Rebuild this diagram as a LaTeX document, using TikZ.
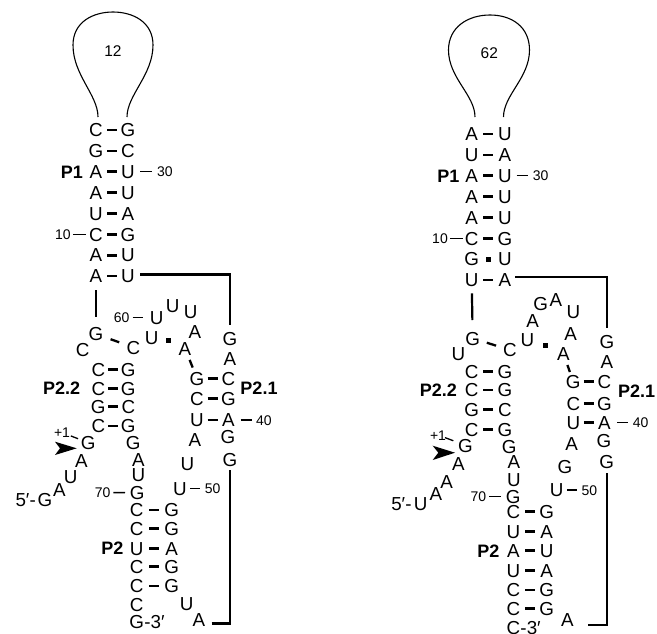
\documentclass[tikz,border=0pt]{standalone}
\usepackage{fontspec}
\setmainfont{Liberation Sans}
\usetikzlibrary{calc}
\begin{document}
\begin{tikzpicture}[x=1pt,y=-1pt,
 nt/.style={inner sep=0pt, font=\fontsize{18.8}{18.8}\selectfont, text height=13.4pt, text depth=0pt},
 num/.style={inner sep=0pt, font=\fontsize{14}{14}\selectfont, text height=10pt, text depth=0pt},
 lnum/.style={inner sep=0pt, font=\fontsize{15.5}{15.5}\selectfont, text height=11pt, text depth=0pt},
 lbl/.style={inner sep=0pt, font=\bfseries\fontsize{18}{18}\selectfont, text height=12.9pt, text depth=0pt},
 bpx/.style 2 args={line width=2.6pt, shorten <=#1, shorten >=#2},
 bp/.style={bpx={#1}{#1}},
 tk/.style 2 args={line width=1.5pt, shorten <=#1, shorten >=#2},
 bb/.style={line width=2.2pt},
 sq/.style={fill=black, inner sep=0pt, minimum size=5pt},
 lp/.style={line width=1.1pt}]
\useasboundingbox (0,0) rectangle (657,633);

%%%%%%%%%%%%%%%%%%%% LEFT PANEL %%%%%%%%%%%%%%%%%%%%
\draw[lp] (98,117) .. controls (98,95) and (73,75) .. (73,45)
  .. controls (73,22) and (93,12) .. (113,12)
  .. controls (133,12) and (153,22) .. (153,45)
  .. controls (153,75) and (127,95) .. (127,117);
\node[lnum] (a12) at (113,51) {12};

\foreach \n/\x/\y/\t in {
 aL1/96/130/C, aR1/128/130/G,
 aL2/96/150.9/G, aR2/128/150.9/C,
 aL3/96/171.7/A, aR3/128/171.7/U,
 aL4/96/192.6/A, aR4/128/192.6/U,
 aL5/96/213.4/U, aR5/128/213.4/A,
 aL6/96/234.3/C, aR6/128/234.3/G,
 aL7/96/255.2/A, aR7/128/255.2/U,
 aL8/96/276/A, aR8/128/276/U,
 aGb/96/334/G, aCc/82.7/349.3/C, aCd/133.3/347.3/C, aUe/151.7/337.3/U,
 aAf/185/348.3/A, aAg/195/331.7/A, aUh/190.7/311.7/U, aUi/172.7/306/U, aUj/156.7/317.3/U,
 aGa/230/338.3/G, aAa/230/358.3/A,
 aT1l/197/378.3/G, aT1r/228.5/378.3/C,
 aT2l/197/398.3/C, aT2r/228.5/398.3/G,
 aT3l/197/420/U, aT3r/228.5/420/A,
 aAx/195/440/A, aGx/228/436.7/G, aGy/230/459.3/G,
 aUx/187.3/463.3/U, aUy/180/488.3/U,
 aQ1l/98.3/369.5/C, aQ1r/128.3/369.5/G,
 aQ2l/98.3/388.3/C, aQ2r/128.3/388.3/G,
 aQ3l/98.3/406.7/G, aQ3r/128.3/406.7/C,
 aQ4l/98.3/426/C, aQ4r/128.3/426/G,
 aG1/88.3/442.7/G, aA2/81.5/461/A, aU3/70.7/476.7/U, aA4/59.3/490/A, aG5/45/500/G,
 aGs/133.3/442.7/G, aAs/138.3/460/A, aUs/138.3/475/U, aGt/137.3/492.7/G,
 aS1l/136.7/510/C, aS1r/171.7/510/G,
 aS2l/136.7/528.3/C, aS2r/171.7/528.3/G,
 aS3l/136.7/548.3/U, aS3r/171.7/548.3/A,
 aS4l/136.7/566.7/C, aS4r/171.7/566.7/G,
 aS5l/136.7/586/C, aS5r/171.7/586/G,
 aCe/136.7/605/C, aGe/136.7/621.7/G,
 aUf/186.7/603.3/U, aAe/199/620/A}
 \node[nt] (\n) at (\x,\y) {\t};

\node[nt, anchor=east] (a5p) at ([xshift=-1.5pt]aG5.west) {5′-};
\node[nt, anchor=west] (a3p) at (aGe.east) {-3′};

\node[lbl] (aP1) at (72,171.7) {P1};
\node[lbl] (aP22) at (61.7,388.3) {P2.2};
\node[lbl] (aP21) at (259,388.3) {P2.1};
\node[lbl] (aP2) at (112.5,548.3) {P2};

\node[num] (an30) at (165,171.7) {30};
\node[num] (an10) at (63,234.3) {10};
\node[num] (an60) at (121.7,317.3) {60};
\node[num] (an40) at (264,420) {40};
\node[num] (an50) at (212.7,488.3) {50};
\node[num] (an70) at (102.7,492.5) {70};
\node[num] (ap1) at (62,432.5) {+1};

\foreach \i in {1,...,8} \draw[bp=11pt] (aL\i.center) -- (aR\i.center);
\foreach \i in {1,...,4} \draw[bp=10pt] (aQ\i l.center) -- (aQ\i r.center);
\foreach \i in {1,...,3} \draw[bp=10.5pt] (aT\i l.center) -- (aT\i r.center);
\foreach \i in {1,...,5} \draw[bp=12.5pt] (aS\i l.center) -- (aS\i r.center);

\draw[bpx={15.5pt}{15pt}, line width=2.3pt] (aGb.center) -- (aCd.center);
\draw[bpx={12.5pt}{11.6pt}, line width=2.3pt] (aAf.center) -- (aT1l.center);
\node[sq] (asq) at (168.3,340.7) {};

\draw[tk={12pt}{13pt}] (aR3.center) -- (an30.center);
\draw[tk={10pt}{10pt}] (an10.center) -- (aL6.center);
\draw[tk={11pt}{13.4pt}] (an60.center) -- (aUj.center);
\draw[tk={12.2pt}{11.7pt}] (aT3r.center) -- (an40.center);
\draw[tk={10pt}{12.7pt}] (aUy.center) -- (an50.center);
\draw[tk={10.6pt}{12.3pt}] (an70.center) -- (aGt.center);
\draw[tk={9.5pt}{11pt}, line width=1.3pt] (ap1.center) -- (aG1.center);

\draw[bb, shorten <=14pt, shorten >=17.3pt] (aL8.center) -- (aGb.center);
\draw[bb, shorten <=12pt, shorten >=13pt] ([yshift=1.5pt]aR8.center) -| (aGa.center);
\draw[bb, shorten <=12.7pt, shorten >=10.7pt] ([yshift=-3.5pt]aAe.center) -| (aGy.center);

\fill (76.7,448.3) -- (55,441.7) -- (60,448.3) -- (55,455) -- cycle;

%%%%%%%%%%%%%%%%%%%% RIGHT PANEL %%%%%%%%%%%%%%%%%%%%
\draw[lp] (475,117) .. controls (475,95) and (448.5,78) .. (448.5,50)
  .. controls (448.5,27) and (468,15) .. (490,15)
  .. controls (512,15) and (529.5,27) .. (529.5,50)
  .. controls (529.5,78) and (503.5,95) .. (503.5,117);
\node[lnum] (b62) at (489.3,53.3) {62};

\foreach \n/\x/\y/\t in {
 bL1/471.7/134/A, bR1/505/134/U,
 bL2/471.7/154.9/U, bR2/505/154.9/A,
 bL3/471.7/175.7/A, bR3/505/175.7/U,
 bL4/471.7/196.6/A, bR4/505/196.6/U,
 bL5/471.7/217.4/A, bR5/505/217.4/U,
 bL6/471.7/238.3/C, bR6/505/238.3/G,
 bL7/471.7/259.2/G, bR7/505/259.2/U,
 bL8/471.7/280/U, bR8/505/280/A,
 bGb/472.7/338.3/G, bUc/458.3/353.3/U, bCd/510/350/C, bUe/527.3/340/U,
 bAf/563.3/353.3/A, bAg/570.7/334/A, bUh/573.3/311.7/U, bAi/556/300/A,
 bGj/540.7/303.3/G, bAk/532.7/320.7/A,
 bGa/607/341.7/G, bAa/607/361.7/A,
 bT1l/573.3/381.7/G, bT1r/604.5/381.7/C,
 bT2l/573.3/403.3/C, bT2r/604.5/403.3/G,
 bT3l/573.3/422.7/U, bT3r/604.5/422.7/A,
 bAx/571.7/443.3/A, bGx/604/440.7/G, bGy/606.7/461.7/G,
 bGz/565/466.7/G, bUy/556.7/490/U,
 bQ1l/471.7/371.7/C, bQ1r/505/371.7/G,
 bQ2l/471.7/390/C, bQ2r/505/390/G,
 bQ3l/471.7/409.3/G, bQ3r/505/409.3/C,
 bQ4l/471.7/429.3/C, bQ4r/505/429.3/G,
 bG1/465.5/445.3/G, bA2/458.3/463.3/A, bA3/446.7/481.7/A, bA4/436/493.3/A, bU5/420.7/503.3/U,
 bGs/509.3/446.7/G, bAs/514/461.7/A, bUs/514/480/U, bGt/513.3/496.7/G,
 bS1l/513.3/511.7/C, bS1r/546.7/511.7/G,
 bS2l/513.3/531.7/U, bS2r/546.7/531.7/A,
 bS3l/513.3/550.7/A, bS3r/546.7/550.7/U,
 bS4l/513.3/570.7/U, bS4r/546.7/570.7/A,
 bS5l/513.3/590/C, bS5r/546.7/590/G,
 bS6l/513.3/608.3/C, bS6r/546.7/608.3/G,
 bCe/513.3/627.5/C, bAe/567.3/619.3/A}
 \node[nt] (\n) at (\x,\y) {\t};

\node[nt, anchor=east] (b5p) at ([xshift=-2pt]bU5.west) {5′-};
\node[nt, anchor=west] (b3p) at (bCe.east) {-3′};

\node[lbl] (bP1) at (448.3,175.7) {P1};
\node[lbl] (bP22) at (438.3,390) {P2.2};
\node[lbl] (bP21) at (636.7,390.7) {P2.1};
\node[lbl] (bP2) at (488.3,550.7) {P2};

\node[num] (bn30) at (540.7,175.7) {30};
\node[num] (bn10) at (440,238.3) {10};
\node[num] (bn40) at (640.7,422.7) {40};
\node[num] (bn50) at (589.3,490) {50};
\node[num] (bn70) at (478.3,496.7) {70};
\node[num] (bp1) at (438,435) {+1};

\foreach \i in {1,2,3,4,5,6,8} \draw[bp=11.7pt] (bL\i.center) -- (bR\i.center);
\node[sq] (bsq1) at ($(bL7)!0.5!(bR7)$) {};
\foreach \i in {1,...,4} \draw[bp=11.7pt] (bQ\i l.center) -- (bQ\i r.center);
\foreach \i in {1,...,3} \draw[bp=10.6pt] (bT\i l.center) -- (bT\i r.center);
\foreach \i in {1,...,6} \draw[bp=11.7pt] (bS\i l.center) -- (bS\i r.center);

\draw[bpx={14.8pt}{14.6pt}, line width=2.3pt] (bGb.center) -- (bCd.center);
\draw[bpx={12.4pt}{10.3pt}, line width=2.3pt] (bAf.center) -- (bT1l.center);
\node[sq] (bsq2) at (545,345) {};

\draw[tk={11.7pt}{12.4pt}] (bR3.center) -- (bn30.center);
\draw[tk={10pt}{9pt}] (bn10.center) -- (bL6.center);
\draw[tk={12.8pt}{12.4pt}] (bT3r.center) -- (bn40.center);
\draw[tk={10.6pt}{12.6pt}] (bUy.center) -- (bn50.center);
\draw[tk={11pt}{12.6pt}] (bn70.center) -- (bGt.center);
\draw[tk={7.5pt}{13pt}, line width=1.3pt] (bp1.center) -- (bG1.center);

\draw[bb, shorten <=13.3pt, shorten >=18.3pt] (bL8.center) -- (bGb.center);
\draw[bb, shorten <=10pt, shorten >=13.4pt] ([yshift=3.3pt]bR8.center) -| (bGa.center);
\draw[bb, shorten <=21pt, shorten >=11.6pt] ([yshift=-5.7pt]bAe.center) -| (bGy.center);

\fill (455,452.7) -- (432.7,445.7) -- (438.3,452.7) -- (432.7,460) -- cycle;
\end{tikzpicture}
\end{document}
